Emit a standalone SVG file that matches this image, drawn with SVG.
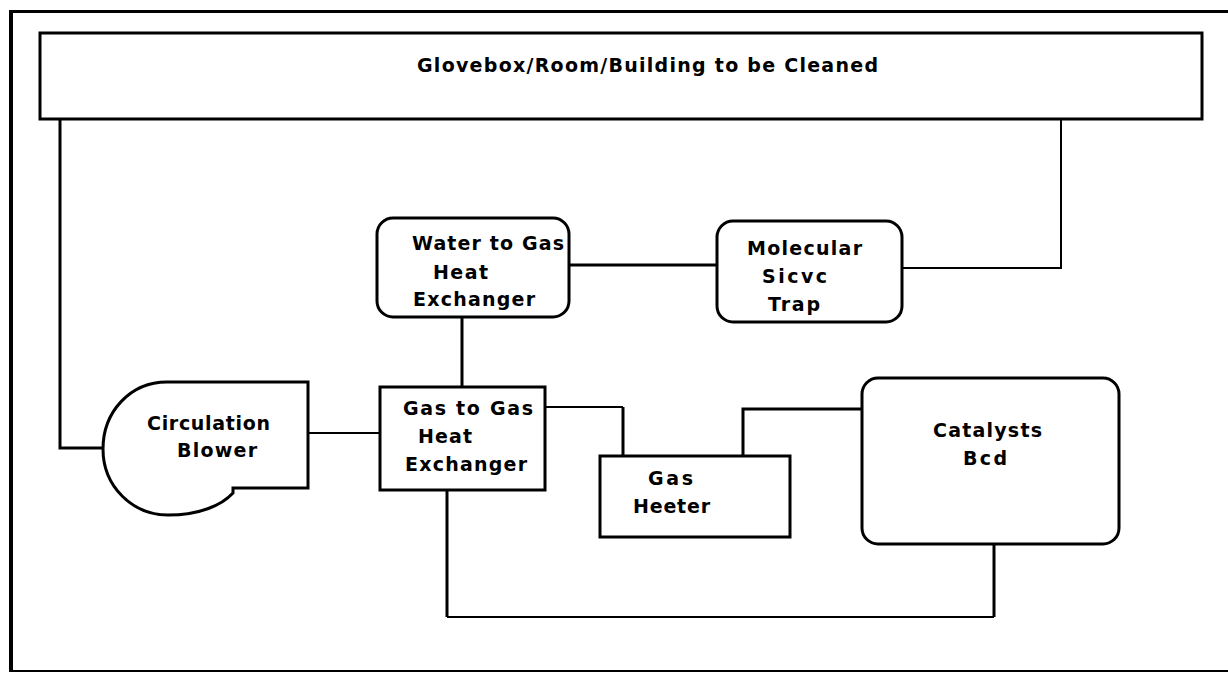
<svg xmlns="http://www.w3.org/2000/svg" width="1228" height="673" viewBox="0 0 1228 673">
<style>
.box{fill:#fff;stroke:#000;stroke-width:3}
.frame{fill:none;stroke:#000}
.c{fill:none;stroke:#000;stroke-width:3}
.t{fill:none;stroke:#000;stroke-width:2}
text{font-family:"DejaVu Sans","Liberation Sans",Arial,sans-serif;font-weight:bold;font-size:19px;fill:#000}
</style>
<rect width="1228" height="673" fill="#fff"/>
<g id="frame">
<line class="frame" x1="11" y1="11.5" x2="1228" y2="11.5" stroke-width="3"/>
<line class="frame" x1="11" y1="10" x2="11" y2="672" stroke-width="4"/>
<line class="frame" x1="11" y1="671" x2="1228" y2="671" stroke-width="2"/>
</g>
<g id="connectors">
<path class="c" d="M60 119 V448 H103"/>
<path class="t" d="M1061 119 V268 H902"/>
<path class="c" d="M569 265 H717"/>
<path class="c" d="M462 317 V387"/>
<path class="t" d="M308 433 H380"/>
<path class="t" d="M545 407 H623"/>
<path class="c" d="M623 407 V456"/>
<path class="c" d="M743 456 V409 H862"/>
<path class="c" d="M994 544 V617"/>
<path class="t" d="M994 617 H447"/>
<path class="c" d="M447 617 V490"/>
</g>
<g id="room">
<rect class="box" x="40" y="33" width="1162" height="86"/>
<text x="417" y="72" textLength="461" lengthAdjust="spacing">Glovebox/Room/Building to be Cleaned</text>
</g>
<g id="water-gas-hx">
<rect class="box" x="377" y="218" width="192" height="99" rx="16"/>
<text x="412" y="250" textLength="152" lengthAdjust="spacing">Water to Gas</text>
<text x="433" y="279" textLength="55" lengthAdjust="spacing">Heat</text>
<text x="413" y="306" textLength="122" lengthAdjust="spacing">Exchanger</text>
</g>
<g id="mol-sieve">
<rect class="box" x="717" y="221" width="185" height="101" rx="16"/>
<text x="747" y="255" textLength="115" lengthAdjust="spacing">Molecular</text>
<text x="762" y="283" textLength="65" lengthAdjust="spacing">Sicvc</text>
<text x="768" y="311" textLength="52" lengthAdjust="spacing">Trap</text>
</g>
<g id="blower">
<path class="box" d="M308 382 H167 C130 382 103 412 103 449 C103 487 133 515 168 515 C200 515 222 505 233 493 V488 H308 Z"/>
<text x="147" y="430" textLength="123" lengthAdjust="spacing">Circulation</text>
<text x="177" y="457" textLength="80" lengthAdjust="spacing">Blower</text>
</g>
<g id="gas-gas-hx">
<rect class="box" x="380" y="387" width="165" height="103"/>
<text x="403" y="415" textLength="130" lengthAdjust="spacing">Gas to Gas</text>
<text x="418" y="443" textLength="54" lengthAdjust="spacing">Heat</text>
<text x="405" y="471" textLength="122" lengthAdjust="spacing">Exchanger</text>
</g>
<g id="gas-heater">
<rect class="box" x="600" y="456" width="190" height="81"/>
<text x="648" y="485" textLength="45" lengthAdjust="spacing">Gas</text>
<text x="633" y="513" textLength="77" lengthAdjust="spacing">Heeter</text>
</g>
<g id="catalyst-bed">
<rect class="box" x="862" y="378" width="257" height="166" rx="16"/>
<text x="933" y="437" textLength="109" lengthAdjust="spacing">Catalysts</text>
<text x="963" y="465" textLength="44" lengthAdjust="spacing">Bcd</text>
</g>
</svg>
